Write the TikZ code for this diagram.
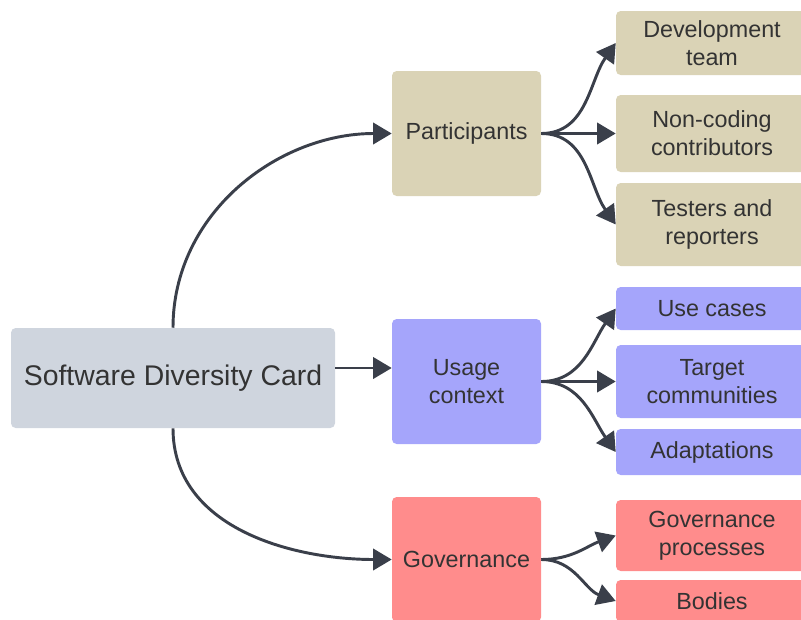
\documentclass[tikz,border=0pt]{standalone}
\usepackage{fontspec}
\setmainfont{Liberation Sans}
\usepackage{tikz}
\usetikzlibrary{arrows.meta,positioning}

\definecolor{cardgray}{HTML}{CFD5DE}
\definecolor{partbeige}{HTML}{DAD3B6}
\definecolor{usagepurple}{HTML}{A5A5FB}
\definecolor{govred}{HTML}{FF8C8C}
\definecolor{linedark}{HTML}{3A3F4A}
\definecolor{textdark}{HTML}{333333}

\begin{document}
\begin{tikzpicture}[x=0.75pt,y=-0.75pt]
		\tikzstyle{box} = [rounded corners=3.5pt,inner sep=0pt,align=center,text=textdark,font=\fontsize{17.5}{21}\selectfont]
		\tikzstyle{root} = [box,fill=cardgray,minimum width=243pt,minimum height=75pt,font=\fontsize{21.3}{25}\selectfont]
		\tikzstyle{group} = [box,minimum width=111.75pt,minimum height=93.75pt]
		\tikzstyle{leaf} = [box,minimum width=144pt]
		\tikzstyle{myarrow} = [-{Triangle[length=14pt,width=16pt]},line width=2.2pt,draw=linedark]
		
		\useasboundingbox (0,0) rectangle (801,619);
		\clip (0,0) rectangle (801,619);
		
		% Nodes
		\node [root] (card) at (173,378) {Software Diversity Card};
		\node [group, fill=partbeige] (participants) at (466.5,133.5) {Participants};
		\node [group, fill=usagepurple] (usage) at (466.5,381.5) {Usage\\context};
		\node [group, fill=govred] (governance) at (466.5,559.5) {Governance};
		
		% Participants children
		\node [leaf, fill=partbeige, minimum height=48pt] (devteam) at (712,43) {Development\\team};
		\node [leaf, fill=partbeige, minimum height=57.75pt] (noncoding) at (712,133.5) {Non-coding\\contributors};
		\node [leaf, fill=partbeige, minimum height=62.25pt] (testers) at (712,224.5) {Testers and\\reporters};
		
		% Usage context children
		\node [leaf, fill=usagepurple, minimum height=32.25pt] (usecases) at (712,308.5) {Use cases};
		\node [leaf, fill=usagepurple, minimum height=54.75pt] (target) at (712,381.5) {Target\\communities};
		\node [leaf, fill=usagepurple, minimum height=34.5pt] (adaptations) at (712,452) {Adaptations};
		
		% Governance children
		\node [leaf, fill=govred, minimum height=53.25pt] (govproc) at (712,535.5) {Governance\\processes};
		\node [leaf, fill=govred, minimum height=31.5pt] (bodies) at (712,601) {Bodies};
		
		% Arrows from the card
		\draw [myarrow] (card.north) to[out=90,in=180] (participants.west);
		\draw [myarrow] (card.east) ++(0,-10) coordinate (cardout) -- (cardout -| usage.west);
		\draw [myarrow] (card.south) to[out=-90,in=180] (governance.west);
		
		% Arrows to the children
		\draw [myarrow] (participants.east) to[out=0,in=235] (devteam.west);
		\draw [myarrow] (participants.east) -- (noncoding.west);
		\draw [myarrow] (participants.east) to[out=0,in=125] (testers.west);
		\draw [myarrow] (usage.east) to[out=0,in=235] (usecases.west);
		\draw [myarrow] (usage.east) -- (target.west);
		\draw [myarrow] (usage.east) to[out=0,in=125] (adaptations.west);
		\draw [myarrow] (governance.east) to[out=0,in=200] (govproc.west);
		\draw [myarrow] (governance.east) to[out=0,in=160] (bodies.west);
	\end{tikzpicture}
\end{document}
